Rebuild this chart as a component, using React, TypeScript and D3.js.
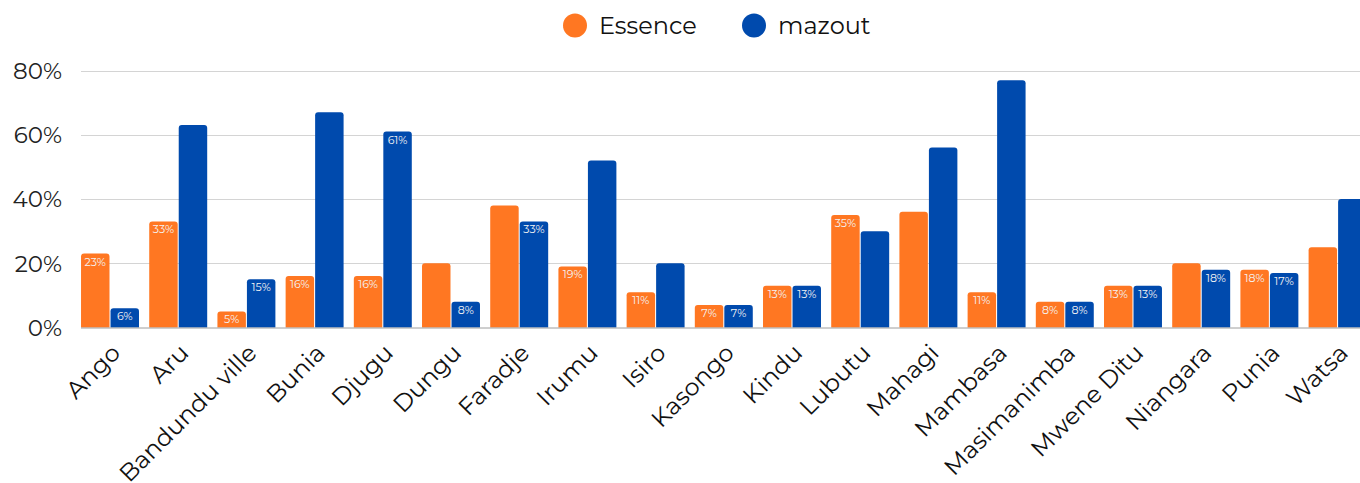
import React, { useEffect, useRef } from "react";
import * as d3 from "d3";

const categories = [
  "Ango", "Aru", "Bandundu ville", "Bunia", "Djugu", "Dungu", "Faradje",
  "Irumu", "Isiro", "Kasongo", "Kindu", "Lubutu", "Mahagi", "Mambasa",
  "Masimanimba", "Mwene Ditu", "Niangara", "Punia", "Watsa",
];
const essence = [23, 33, 5, 16, 16, 20, 38, 19, 11, 7, 13, 35, 36, 11, 8, 13, 20, 18, 25];
const mazout = [6, 63, 15, 67, 61, 8, 33, 52, 20, 7, 13, 30, 56, 77, 8, 13, 18, 17, 40];
// which bars carry a value label in the original
const essenceLabelled = [1, 1, 1, 1, 1, 0, 0, 1, 1, 1, 1, 1, 0, 1, 1, 1, 0, 1, 0];
const mazoutLabelled = [1, 0, 1, 0, 1, 1, 1, 0, 0, 1, 1, 0, 0, 0, 1, 1, 1, 1, 0];
const seriesNames = ["Essence", "mazout"];
const yTicks = [0, 20, 40, 60, 80];

const COLORS = { Essence: "#ff7722", mazout: "#004aad" };
const FONT = "Montserrat, 'DejaVu Sans', sans-serif";

const App = () => {
  const ref = useRef(null);

  useEffect(() => {
    document.body.style.margin = "0";
    const width = 1360;
    const height = 483;
    const root = d3.select(ref.current);
    root.selectAll("*").remove();

    const svg = root
      .append("svg")
      .attr("width", width)
      .attr("height", height)
      .style("display", "block")
      .style("background", "#fff")
      .style("font-family", FONT);

    const plotLeft = 81;
    const y = d3.scaleLinear().domain([0, 80]).range([327.5, 70.5]);

    const x0 = d3
      .scaleBand()
      .domain(categories)
      .range([70.8, 1376.8])
      .padding(0.15);

    const x1 = d3
      .scaleBand()
      .domain(seriesNames)
      .range([0, x0.bandwidth()])
      .paddingInner(0.035);

    // gridlines
    svg
      .append("g")
      .selectAll("line")
      .data(yTicks.filter((t) => t > 0))
      .enter()
      .append("line")
      .attr("x1", plotLeft)
      .attr("x2", width)
      .attr("y1", (d) => Math.round(y(d)) + 0.5)
      .attr("y2", (d) => Math.round(y(d)) + 0.5)
      .attr("stroke", "#d4d4d4")
      .attr("stroke-width", 1);

    // y tick labels
    svg
      .append("g")
      .selectAll("text")
      .data(yTicks)
      .enter()
      .append("text")
      .attr("x", 62)
      .attr("y", (d) => y(d))
      .attr("dy", "0.36em")
      .attr("text-anchor", "end")
      .style("font-size", "23px")
      .style("fill", "#222")
      .text((d) => `${d}%`);

    const rows = categories.map((c, i) => ({
      cat: c,
      bars: [
        { key: "Essence", value: essence[i], label: essenceLabelled[i] },
        { key: "mazout", value: mazout[i], label: mazoutLabelled[i] },
      ],
    }));

    const groups = svg
      .append("g")
      .selectAll("g")
      .data(rows)
      .enter()
      .append("g")
      .attr("transform", (d) => `translate(${x0(d.cat)},0)`);

    // bars with rounded top corners
    groups
      .selectAll("path")
      .data((d) => d.bars)
      .enter()
      .append("path")
      .attr("d", (d) => {
        const bx = x1(d.key);
        const bw = x1.bandwidth();
        const top = y(d.value);
        const bottom = y(0);
        const r = Math.min(3, (bottom - top) / 2);
        return `M${bx},${bottom}V${top + r}Q${bx},${top} ${bx + r},${top}H${bx + bw - r}Q${bx + bw},${top} ${bx + bw},${top + r}V${bottom}Z`;
      })
      .attr("fill", (d) => COLORS[d.key]);

    // value labels inside the bars
    groups
      .selectAll("text")
      .data((d) => d.bars.filter((b) => b.label))
      .enter()
      .append("text")
      .attr("x", (d) => x1(d.key) + x1.bandwidth() / 2)
      .attr("y", (d) => y(d.value) + 12)
      .attr("text-anchor", "middle")
      .style("font-size", "11px")
      .style("fill", "#f4f4f4")
      .text((d) => `${d.value}%`);

    // baseline
    svg
      .append("line")
      .attr("x1", plotLeft)
      .attr("x2", width)
      .attr("y1", y(0) + 0.5)
      .attr("y2", y(0) + 0.5)
      .attr("stroke", "#9e9e9e")
      .attr("stroke-width", 1);

    // x labels, rotated
    svg
      .append("g")
      .selectAll("text")
      .data(categories)
      .enter()
      .append("text")
      .attr(
        "transform",
        (d) => `translate(${x0(d) + x0.bandwidth() / 2},${y(0) + 15}) rotate(-45)`
      )
      .attr("text-anchor", "end")
      .attr("dy", "0.7em")
      .style("font-size", "24px")
      .style("fill", "#111")
      .text((d) => d);

    // legend
    const legendItems = [
      { key: "Essence", cx: 575 },
      { key: "mazout", cx: 754 },
    ];
    const legend = svg.append("g");
    legend
      .selectAll("circle")
      .data(legendItems)
      .enter()
      .append("circle")
      .attr("cx", (d) => d.cx)
      .attr("cy", 25.5)
      .attr("r", 12)
      .attr("fill", (d) => COLORS[d.key]);
    legend
      .selectAll("text")
      .data(legendItems)
      .enter()
      .append("text")
      .attr("x", (d) => d.cx + 24)
      .attr("y", 25.5)
      .attr("dy", "0.36em")
      .style("font-size", "24px")
      .style("fill", "#111")
      .text((d) => d.key);
  }, []);

  return <div ref={ref} style={{ width: 1360, height: 483 }} />;
};

export default App;
